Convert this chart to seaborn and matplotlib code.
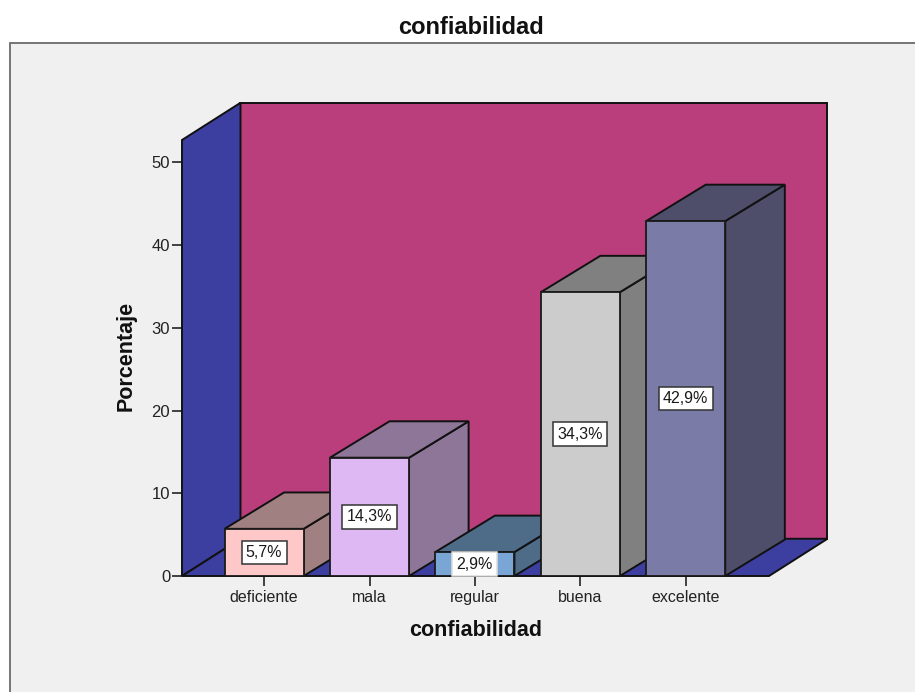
import matplotlib
matplotlib.use("Agg")
import matplotlib.pyplot as plt
from matplotlib.patches import Polygon, Rectangle
import pandas as pd
import seaborn as sns

categories = ["deficiente", "mala", "regular", "buena", "excelente"]
percentages = [5.7, 14.3, 2.9, 34.3, 42.9]
labels = ["5,7%", "14,3%", "2,9%", "34,3%", "42,9%"]
front_colors = ["#FFC8C8", "#DEB8F2", "#7AA6D6", "#CCCCCC", "#7B7BA8"]
shade_colors = ["#A08080", "#8E7698", "#4E6C88", "#808080", "#4E4E6A"]
y_ticks = [0, 10, 20, 30, 40, 50]

WALL = "#BA3E7C"
FLOOR = "#3C3FA0"
PANEL = "#F0F0F0"
FONT = "Liberation Sans"
BAR_WIDTH = 0.75
DEPTH_X = 0.565   # oblique depth of the bars, in category units
DEPTH_Y = 4.4     # oblique depth of the bars, in percentage units
BOX_DEPTH_X = 0.555
BOX_DEPTH_Y = 4.5
X_MIN, X_MAX = -0.779, 4.79
Y_MAX = 52.7

W, H = 915, 692
sns.set_theme(style="white")
plt.rcParams["font.family"] = [FONT, "DejaVu Sans"]

fig = plt.figure(figsize=(W / 100, H / 100), dpi=100, facecolor="white")
fig.add_artist(Rectangle((10 / W, 1 - 735 / H), 960 / W, 692 / H,
                         transform=fig.transFigure, facecolor=PANEL,
                         edgecolor="#6A6A6A", linewidth=1.3, zorder=-5))

ax = fig.add_axes([182 / W, 1 - 576 / H, 587 / W, 436 / H])
ax.patch.set_alpha(0)

table = pd.DataFrame({"categoria": categories, "porcentaje": percentages})
sns.barplot(data=table, x="categoria", y="porcentaje", hue="categoria",
            order=categories, hue_order=categories, palette=front_colors,
            saturation=1, width=BAR_WIDTH, dodge=False, legend=False,
            edgecolor="#1A1A1A", linewidth=1.3, ax=ax, zorder=10)

ax.set_xlim(X_MIN, X_MAX)
ax.set_ylim(0, Y_MAX)


def face(points, color, zorder):
    ax.add_patch(Polygon(points, closed=True, facecolor=color,
                         edgecolor="#111111", linewidth=1.4,
                         clip_on=False, zorder=zorder))


bars = [p for p in ax.patches if p.get_height() > 0]

# Chart box: back wall, side wall and floor
back_left = X_MIN + BOX_DEPTH_X
back_right = X_MAX + BOX_DEPTH_X
back_top = Y_MAX + BOX_DEPTH_Y
face([(back_left, BOX_DEPTH_Y), (back_right, BOX_DEPTH_Y),
      (back_right, back_top), (back_left, back_top)], WALL, 1)
face([(X_MIN, 0), (back_left, BOX_DEPTH_Y), (back_left, back_top),
      (X_MIN, Y_MAX)], FLOOR, 1.1)
face([(X_MIN, 0), (X_MAX, 0), (back_right, BOX_DEPTH_Y),
      (back_left, BOX_DEPTH_Y)], FLOOR, 1.2)

# Side and top faces of each bar, stacked left to right behind the fronts
half = BAR_WIDTH / 2
for i, (value, shade) in enumerate(zip(percentages, shade_colors)):
    z = 3 + 2 * i
    face([(i + half, 0), (i + half + DEPTH_X, DEPTH_Y),
          (i + half + DEPTH_X, value + DEPTH_Y), (i + half, value)], shade, z)
    face([(i - half, value), (i + half, value),
          (i + half + DEPTH_X, value + DEPTH_Y),
          (i - half + DEPTH_X, value + DEPTH_Y)], shade, z)
    bars[i].set_zorder(z + 1)
    edge = "#333333" if value > 3 else "#DDDDDD"
    ax.text(i, value / 2, labels[i], ha="center", va="center", fontsize=11.5,
            color="#1A1A1A", zorder=20, family=FONT,
            bbox=dict(boxstyle="square,pad=0.27", facecolor="white",
                      edgecolor=edge, linewidth=1.1))

for side in ("top", "right", "left", "bottom"):
    ax.spines[side].set_visible(False)
ax.set_yticks(y_ticks)
ax.tick_params(axis="y", length=7, width=1.3, color="#333333", pad=1.5,
               labelsize=12, labelcolor="#222222", left=True)
ax.tick_params(axis="x", length=7, width=1.3, color="#333333", pad=3,
               labelsize=11.5, labelcolor="#222222", bottom=True)

ax.set_xlabel("confiabilidad", fontsize=15.5, fontweight="bold", color="#111111",
              labelpad=11)
ax.set_ylabel("Porcentaje", fontsize=15.5, fontweight="bold", color="#111111",
              labelpad=11, y=0.505)

fig.text(471 / W, 1 - 27 / H, "confiabilidad", ha="center", va="center",
         fontsize=17, fontweight="bold", color="#111111", family=FONT)

fig.savefig("out.png", dpi=100, facecolor="white")
